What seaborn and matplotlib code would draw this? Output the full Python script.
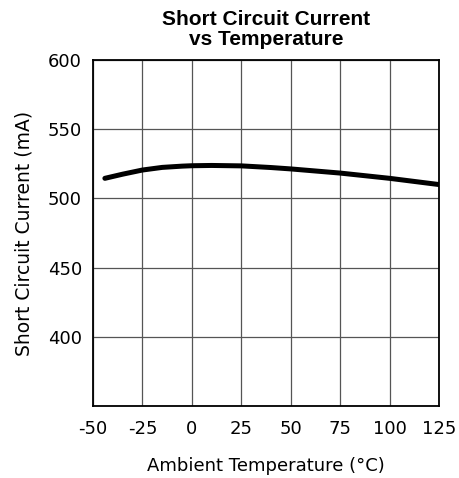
import matplotlib
matplotlib.use("Agg")
import matplotlib.pyplot as plt
import seaborn as sns
import pandas as pd

temperature = [-44, -35, -25, -15, -5, 0, 10, 25, 40, 50, 75, 100, 125]
current = [514.5, 517.5, 520.5, 522.4, 523.3, 523.6, 523.8, 523.5, 522.3, 521.3, 518.3, 514.5, 510.0]
x_ticks = [-50, -25, 0, 25, 50, 75, 100, 125]
y_ticks = [350, 400, 450, 500, 550, 600]
y_tick_labels = ["", "400", "450", "500", "550", "600"]

sns.set_style("white")
plt.rcParams['font.family'] = ['DejaVu Sans']
plt.rcParams['text.color'] = 'black'
plt.rcParams['xtick.color'] = 'black'
plt.rcParams['ytick.color'] = 'black'
plt.rcParams['axes.labelcolor'] = 'black'

df = pd.DataFrame({"t": temperature, "i": current})

fig = plt.figure(figsize=(4.6, 4.78), dpi=100)
ax = fig.add_axes([0.2022, 0.1506, 0.7522, 0.7239])
sns.lineplot(data=df, x="t", y="i", ax=ax, color="black", linewidth=3.6)

ax.set_xlim(-50, 125)
ax.set_ylim(350, 600)
ax.set_xticks(x_ticks)
ax.set_xticklabels([str(v) for v in x_ticks])
ax.set_yticks(y_ticks)
ax.set_yticklabels(y_tick_labels)
ax.grid(True, color="#555555", linewidth=0.9)
ax.tick_params(axis="both", length=0, labelsize=13)
ax.tick_params(axis="x", pad=10)
ax.tick_params(axis="y", pad=8)
for s in ax.spines.values():
    s.set_color("black")
    s.set_linewidth(1.3)
ax.set_xlabel("Ambient Temperature (\u00b0C)", fontsize=13, labelpad=14)
ax.set_ylabel("Short Circuit Current (mA)", fontsize=13.5, labelpad=10)
ax.set_title("Short Circuit Current\nvs Temperature", fontsize=15, fontweight="bold",
             family="Liberation Sans", linespacing=1.05, pad=11)

fig.savefig("out.png", dpi=100)
